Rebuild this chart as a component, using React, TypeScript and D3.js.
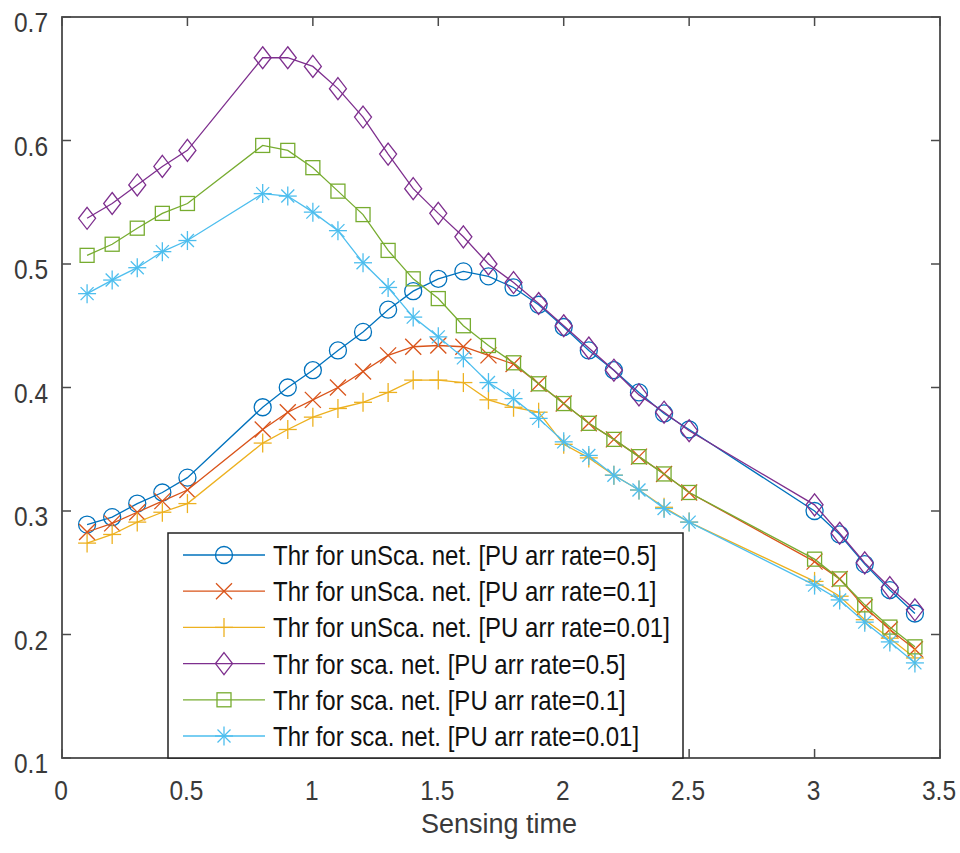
import React, { useEffect, useRef } from "react";
import * as d3 from "d3";

// sensing time values (x)
const sensingTime = [
  0.1, 0.2, 0.3, 0.4, 0.5,
  0.8, 0.9, 1.0, 1.1, 1.2, 1.3, 1.4, 1.5, 1.6, 1.7, 1.8, 1.9, 2.0, 2.1, 2.2, 2.3, 2.4, 2.5,
  3.0, 3.1, 3.2, 3.3, 3.4,
];

const unScaRate05 = [
  0.289, 0.295, 0.306, 0.315, 0.327,
  0.384, 0.400, 0.414, 0.430, 0.445, 0.463, 0.478, 0.488, 0.494, 0.490, 0.481, 0.467, 0.449, 0.430, 0.414, 0.396, 0.379, 0.366,
  0.300, 0.281, 0.257, 0.236, 0.217,
];
const unScaRate01 = [
  0.283, 0.290, 0.299, 0.308, 0.317,
  0.366, 0.380, 0.390, 0.400, 0.413, 0.426, 0.433, 0.434, 0.433, 0.426, 0.419, 0.403, 0.387, 0.371, 0.358, 0.344, 0.330, 0.315,
  0.259, 0.245, 0.222, 0.204, 0.188,
];
const unScaRate001 = [
  0.274, 0.281, 0.291, 0.299, 0.306,
  0.355, 0.366, 0.376, 0.383, 0.388, 0.396, 0.406, 0.406, 0.404, 0.390, 0.384, 0.380, 0.354, 0.343, 0.329, 0.317, 0.303, 0.291,
  0.243, 0.231, 0.212, 0.197, 0.181,
];
const scaRate05 = [
  0.537, 0.549, 0.564, 0.579, 0.592,
  0.667, 0.667, 0.660, 0.642, 0.619, 0.589, 0.561, 0.541, 0.522, 0.500, 0.485, 0.468, 0.450, 0.432, 0.414, 0.394, 0.380, 0.365,
  0.305, 0.282, 0.258, 0.238, 0.220,
];
const scaRate01 = [
  0.507, 0.516, 0.529, 0.541, 0.549,
  0.596, 0.592, 0.578, 0.559, 0.540, 0.511, 0.488, 0.472, 0.450, 0.434, 0.420, 0.403, 0.387, 0.371, 0.358, 0.344, 0.330, 0.315,
  0.261, 0.245, 0.224, 0.206, 0.190,
];
const scaRate001 = [
  0.476, 0.487, 0.497, 0.510, 0.519,
  0.557, 0.555, 0.542, 0.527, 0.501, 0.481, 0.457, 0.441, 0.424, 0.404, 0.391, 0.375, 0.356, 0.345, 0.329, 0.317, 0.302, 0.291,
  0.240, 0.228, 0.210, 0.194, 0.177,
];

const seriesNames = [
  "Thr for unSca. net. [PU arr rate=0.5]",
  "Thr for unSca. net. [PU arr rate=0.1]",
  "Thr for unSca. net. [PU arr rate=0.01]",
  "Thr for sca. net. [PU arr rate=0.5]",
  "Thr for sca. net. [PU arr rate=0.1]",
  "Thr for sca. net. [PU arr rate=0.01]",
];
const seriesValues = [unScaRate05, unScaRate01, unScaRate001, scaRate05, scaRate01, scaRate001];
const seriesColors = ["#0072BD", "#D95319", "#EDB120", "#7E2F8E", "#77AC30", "#4DBEEE"];
const seriesMarkers = ["circle", "x", "plus", "diamond", "square", "star"];

const xTicks = [0, 0.5, 1, 1.5, 2, 2.5, 3, 3.5];
const yTicks = [0.1, 0.2, 0.3, 0.4, 0.5, 0.6, 0.7];

const W = 960;
const H = 853;
const font = "'Liberation Sans', Arial, sans-serif";

// draws a MATLAB style marker centred on (cx, cy)
function drawMarker(g: any, type: string, cx: number, cy: number, color: string) {
  const s = { fill: "none", stroke: color, "stroke-width": 1.3 };
  const line = (x1: number, y1: number, x2: number, y2: number) => {
    const l = g.append("line").attr("x1", cx + x1).attr("y1", cy + y1).attr("x2", cx + x2).attr("y2", cy + y2);
    Object.entries(s).forEach(([k, v]) => l.attr(k, v));
  };
  if (type === "circle") {
    const c = g.append("circle").attr("cx", cx).attr("cy", cy).attr("r", 8.5);
    Object.entries(s).forEach(([k, v]) => c.attr(k, v));
  } else if (type === "square") {
    const r = g.append("rect").attr("x", cx - 7).attr("y", cy - 7).attr("width", 14).attr("height", 14);
    Object.entries(s).forEach(([k, v]) => r.attr(k, v));
  } else if (type === "diamond") {
    const p = g.append("path").attr("d", `M${cx},${cy - 11}L${cx + 8.5},${cy}L${cx},${cy + 11}L${cx - 8.5},${cy}Z`);
    Object.entries(s).forEach(([k, v]) => p.attr(k, v));
  } else if (type === "x") {
    line(-8, -8, 8, 8);
    line(-8, 8, 8, -8);
  } else if (type === "plus") {
    line(-9, 0, 9, 0);
    line(0, -9.5, 0, 9.5);
  } else if (type === "star") {
    line(-9, 0, 9, 0);
    line(0, -9.5, 0, 9.5);
    line(-6.5, -6.5, 6.5, 6.5);
    line(-6.5, 6.5, 6.5, -6.5);
  }
}

// text that is a bit taller than wide, like the reference
function tallText(g: any, x: number, y: number, str: string, size: number, anchor: string, stretch: number, color: string) {
  return g.append("text")
    .attr("transform", `translate(${x},${y}) scale(1,${stretch})`)
    .attr("text-anchor", anchor)
    .attr("font-family", font)
    .attr("font-size", size)
    .attr("fill", color)
    .text(str);
}

export default function App() {
  const ref = useRef<SVGSVGElement>(null);

  useEffect(() => {
    const svg = d3.select(ref.current);
    svg.selectAll("*").remove();

    const left = 62, right = 940, top = 17, bottom = 758;
    const x = d3.scaleLinear().domain([0, 3.5]).range([left, right]);
    const y = d3.scaleLinear().domain([0.1, 0.7]).range([bottom, top]);

    svg.append("rect").attr("width", W).attr("height", H).attr("fill", "#fff");

    // series lines and markers
    const plot = svg.append("g");
    seriesValues.forEach((vals, i) => {
      const pts: [number, number][] = sensingTime.map((t, j) => [t, vals[j]]);
      const lineGen = d3.line<[number, number]>().x(d => x(d[0])).y(d => y(d[1]));
      plot.append("path")
        .attr("d", lineGen(pts))
        .attr("fill", "none")
        .attr("stroke", seriesColors[i])
        .attr("stroke-width", 1.3);
      const mg = plot.append("g");
      pts.forEach(p => drawMarker(mg, seriesMarkers[i], x(p[0]), y(p[1]), seriesColors[i]));
    });

    // axes box and ticks
    const axisColor = "#4a4a4a";
    const textColor = "#3a3a3a";
    const ax = svg.append("g");
    ax.append("rect")
      .attr("x", left).attr("y", top)
      .attr("width", right - left).attr("height", bottom - top)
      .attr("fill", "none").attr("stroke", axisColor).attr("stroke-width", 1.8);

    const tl = 9;
    xTicks.forEach(t => {
      const px = x(t);
      ax.append("line").attr("x1", px).attr("x2", px).attr("y1", bottom).attr("y2", bottom - tl)
        .attr("stroke", axisColor).attr("stroke-width", 1.5);
      ax.append("line").attr("x1", px).attr("x2", px).attr("y1", top).attr("y2", top + tl)
        .attr("stroke", axisColor).attr("stroke-width", 1.5);
      tallText(ax, px - 1, 800, d3.format("")(t), 24.5, "middle", 1.1, textColor);
    });
    yTicks.forEach(t => {
      const py = y(t);
      ax.append("line").attr("x1", left).attr("x2", left + tl).attr("y1", py).attr("y2", py)
        .attr("stroke", axisColor).attr("stroke-width", 1.5);
      ax.append("line").attr("x1", right).attr("x2", right - tl).attr("y1", py).attr("y2", py)
        .attr("stroke", axisColor).attr("stroke-width", 1.5);
      tallText(ax, 48, py + 15, d3.format(".1f")(t), 24.5, "end", 1.1, textColor);
    });

    tallText(svg, (left + right) / 2 - 2, 833, "Sensing time", 27, "middle", 1.05, textColor);

    // legend
    const lg = svg.append("g");
    const lx0 = 168, lx1 = 683, ly0 = 533, ly1 = 758;
    lg.append("rect").attr("x", lx0).attr("y", ly0).attr("width", lx1 - lx0).attr("height", ly1 - ly0)
      .attr("fill", "#fff").attr("stroke", "#222").attr("stroke-width", 1.5);
    seriesNames.forEach((name, i) => {
      const ry = 555 + i * 36.2;
      lg.append("line").attr("x1", 183).attr("x2", 265).attr("y1", ry).attr("y2", ry)
        .attr("stroke", seriesColors[i]).attr("stroke-width", 1.3);
      drawMarker(lg, seriesMarkers[i], 224, ry, seriesColors[i]);
      tallText(lg, 273, ry + 10, name, 24, "start", 1.15, "#111");
    });
  }, []);

  return (
    <div style={{ position: "absolute", left: 0, top: 0 }}>
      <svg ref={ref} width={W} height={H} />
    </div>
  );
}
